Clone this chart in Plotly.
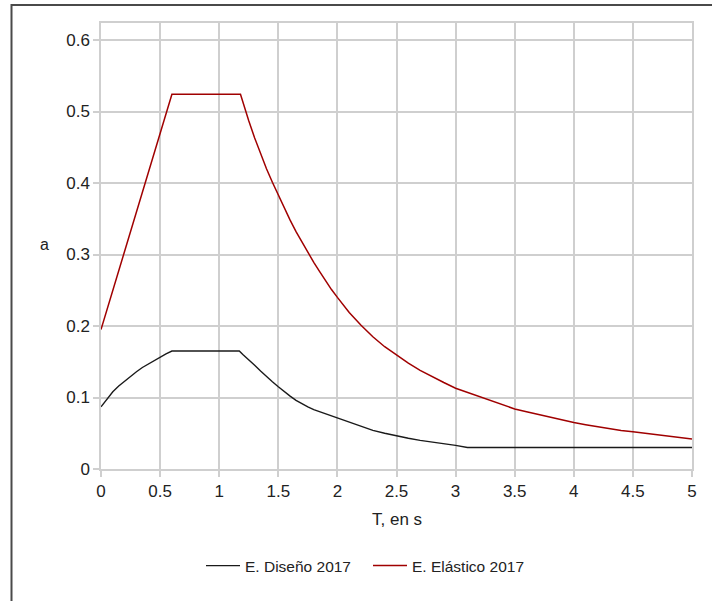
import plotly.graph_objects as go

# Design spectrum (E. Diseño 2017): period T [s] vs spectral ordinate a
t_diseno = [0.0, 0.1, 0.15, 0.2, 0.25, 0.3, 0.35, 0.4, 0.45, 0.5, 0.55, 0.6,
            1.17, 1.2, 1.25, 1.3, 1.35, 1.4, 1.45, 1.5, 1.55, 1.6, 1.65, 1.7, 1.75,
            1.8, 1.85, 1.9, 1.95, 2.0, 2.1, 2.2, 2.3, 2.4, 2.5, 2.6, 2.7, 2.8, 2.9,
            3.0, 3.1, 3.5, 4.0, 4.5, 5.0]
a_diseno = [0.087, 0.108, 0.116, 0.123, 0.130, 0.136, 0.142, 0.147, 0.152, 0.156,
            0.161, 0.165,
            0.165, 0.160, 0.153, 0.145, 0.137, 0.129, 0.122, 0.115, 0.108, 0.102,
            0.096, 0.091, 0.087, 0.083, 0.080, 0.077, 0.074, 0.071, 0.065, 0.059,
            0.054, 0.050, 0.046, 0.043, 0.040, 0.038, 0.035, 0.033, 0.030, 0.030,
            0.030, 0.030, 0.030]

# Elastic spectrum (E. Elástico 2017)
t_elastico = [0.0, 0.6, 1.18, 1.2, 1.25, 1.3, 1.35, 1.4, 1.45, 1.5, 1.55, 1.6, 1.65,
              1.7, 1.75, 1.8, 1.85, 1.9, 1.95, 2.0, 2.1, 2.2, 2.3, 2.4, 2.5, 2.6,
              2.7, 2.8, 2.9, 3.0, 3.1, 3.2, 3.3, 3.4, 3.5, 3.6, 3.7, 3.8, 3.9, 4.0,
              4.1, 4.2, 4.3, 4.4, 4.5, 4.6, 4.7, 4.8, 4.9, 5.0]
a_elastico = [0.195, 0.524, 0.524, 0.513, 0.487, 0.463, 0.441, 0.420, 0.401, 0.383,
              0.365, 0.348, 0.332, 0.317, 0.302, 0.289, 0.276, 0.263, 0.251, 0.240,
              0.219, 0.201, 0.185, 0.171, 0.159, 0.148, 0.138, 0.129, 0.121, 0.113,
              0.107, 0.101, 0.095, 0.089, 0.084, 0.080, 0.076, 0.072, 0.068, 0.065,
              0.062, 0.059, 0.057, 0.054, 0.052, 0.050, 0.048, 0.046, 0.044, 0.042]

x_ticks = [0, 0.5, 1, 1.5, 2, 2.5, 3, 3.5, 4, 4.5, 5]
x_tick_text = ["0", "0.5", "1", "1.5", "2", "2.5", "3", "3.5", "4", "4.5", "5"]
y_ticks = [0, 0.1, 0.2, 0.3, 0.4, 0.5, 0.6]
y_tick_text = ["0", "0.1", "0.2", "0.3", "0.4", "0.5", "0.6"]

W, H = 712, 601
ML, MR, MT, MB = 101, 20, 23, 132
PW, PH = W - ML - MR, H - MT - MB

FONT = "Liberation Sans, Arial, sans-serif"

fig = go.Figure()
fig.add_trace(go.Scatter(x=t_diseno, y=a_diseno, mode="lines", name="E. Diseño 2017",
                         line=dict(color="#1a1a1a", width=1.4)))
fig.add_trace(go.Scatter(x=t_elastico, y=a_elastico, mode="lines", name="E. Elástico 2017",
                         line=dict(color="#a00000", width=1.5)))

grid = "#cfcfcf"
fig.update_xaxes(range=[0, 5], tickvals=x_ticks, ticktext=x_tick_text,
                 showgrid=True, gridcolor=grid, gridwidth=1.5,
                 showline=True, linecolor=grid, linewidth=1.5, mirror=True,
                 ticks="outside", ticklen=6, tickcolor=grid, tickwidth=1.5,
                 zeroline=False, tickfont=dict(family=FONT, size=17, color="#222"))
fig.update_yaxes(range=[0, 0.6238], tickvals=y_ticks, ticktext=y_tick_text,
                 showgrid=True, gridcolor=grid, gridwidth=1.5,
                 showline=True, linecolor=grid, linewidth=1.5, mirror=True,
                 ticks="outside", ticklen=6, tickcolor=grid, tickwidth=1.5,
                 zeroline=False, tickfont=dict(family=FONT, size=17, color="#222"))


def px_to_paper_x(px):
    return (px - ML) / PW


def px_to_paper_y(py):
    return (H - MB - py) / PH


# Axis titles
fig.add_annotation(text="T, en s", x=0.5, y=px_to_paper_y(519), xref="paper", yref="paper",
                   showarrow=False, xanchor="center", yanchor="middle",
                   font=dict(family=FONT, size=17, color="#222"))
fig.add_annotation(text="a", x=px_to_paper_x(44), y=px_to_paper_y(244), xref="paper", yref="paper",
                   showarrow=False, xanchor="center", yanchor="middle",
                   font=dict(family=FONT, size=16, color="#222"))

# Outer frame of the chart control (top and left edges)
fig.add_shape(type="line", xref="paper", yref="paper",
              x0=px_to_paper_x(11.5), x1=px_to_paper_x(712), y0=px_to_paper_y(5), y1=px_to_paper_y(5),
              line=dict(color="#4a4a4a", width=2))
fig.add_shape(type="line", xref="paper", yref="paper",
              x0=px_to_paper_x(11.5), x1=px_to_paper_x(11.5), y0=px_to_paper_y(4), y1=px_to_paper_y(601),
              line=dict(color="#4a4a4a", width=2))

fig.update_layout(
    width=W, height=H,
    margin=dict(l=ML, r=MR, t=MT, b=MB),
    paper_bgcolor="white", plot_bgcolor="white",
    font=dict(family=FONT, size=15, color="#222"),
    showlegend=True,
    legend=dict(orientation="h", xref="container", yref="container",
                x=368 / W, y=1 - 566 / H, xanchor="center", yanchor="middle",
                font=dict(family=FONT, size=15.5, color="#222"),
                itemwidth=34, entrywidth=118, entrywidthmode="pixels", tracegroupgap=0),
)

fig.write_html("out.html")
